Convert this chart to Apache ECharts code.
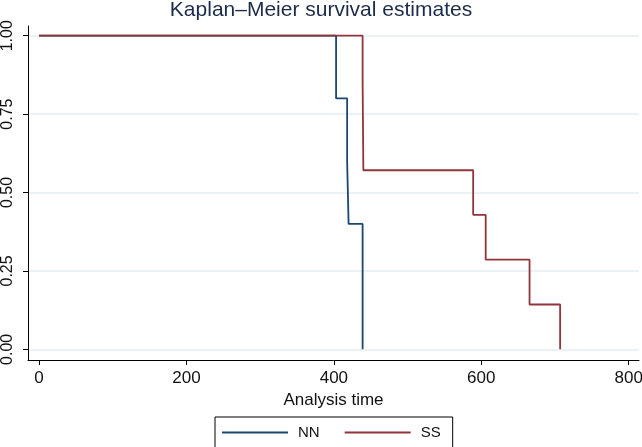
<!DOCTYPE html>
<html>
<head>
<meta charset="utf-8">
<script src="https://cdn.jsdelivr.net/npm/echarts@6/dist/echarts.min.js"></script>
<style>
html,body{margin:0;padding:0;background:#fff;}
#chart{width:642px;height:447px;}
</style>
</head>
<body>
<div id="chart"></div>
<script>
const titleText = 'Kaplan\u2013Meier survival estimates';
const seriesNames = ['NN', 'SS'];
const nnTime = [0, 403, 418, 420, 439];
const nnSurv = [1, 0.8, 0.6, 0.4, 0];
const ssTime = [0, 439, 440, 589, 606, 665.5, 707];
const ssSurv = [1, 0.857, 0.571, 0.429, 0.286, 0.143, 0];
const xTicks = [0, 200, 400, 600, 800];
const yTicks = [0, 0.25, 0.5, 0.75, 1];

function zip(a, b) { return a.map((v, i) => [v, b[i]]); }

const font = 'Liberation Sans, Arial, sans-serif';
const chart = echarts.init(document.getElementById('chart'));
chart.setOption({
  animation: false,
  backgroundColor: '#ffffff',
  title: {
    text: titleText, left: 'center', top: -5,
    textStyle: { fontFamily: font, fontSize: 21, fontWeight: 'normal', color: '#1c2b4a' }
  },
  grid: { left: 28, right: 3, top: 26, bottom: 87, containLabel: false, outerBoundsMode: 'none' },
  legend: {
    data: seriesNames,
    left: 215, top: 417,
    orient: 'horizontal',
    icon: 'rect', itemWidth: 66, itemHeight: 2, itemGap: 25,
    borderColor: '#000', borderWidth: 1, borderRadius: 0,
    padding: [8, 12, 8, 7],
    textStyle: { fontFamily: font, fontSize: 15, color: '#111', padding: [0, 0, 0, 5] }
  },
  xAxis: {
    type: 'value', min: -15, max: 814,
    name: 'Analysis time', nameLocation: 'middle', nameGap: 22,
    nameTextStyle: { fontFamily: font, fontSize: 17, color: '#111' },
    axisLine: { show: true, onZero: false, lineStyle: { color: '#000', width: 1 } },
    axisTick: { show: true, length: 5, customValues: xTicks, lineStyle: { color: '#000' } },
    axisLabel: { customValues: xTicks, margin: 10, fontFamily: font, fontSize: 17, color: '#111' },
    splitLine: { show: false }
  },
  yAxis: {
    type: 'value', min: -0.034, max: 1.031,
    axisLine: { show: true, onZero: false, lineStyle: { color: '#000', width: 1 } },
    axisTick: { show: true, length: 5, customValues: yTicks, lineStyle: { color: '#000' } },
    axisLabel: {
      customValues: yTicks, rotate: 90, margin: 12, fontFamily: font, fontSize: 16, color: '#111',
      formatter: v => v.toFixed(2)
    },
    splitLine: { show: true, customValues: yTicks, lineStyle: { color: '#e6edf0', width: 1.5 } }
  },
  series: [
    {
      name: seriesNames[0], type: 'line', step: 'end', showSymbol: false,
      data: zip(nnTime, nnSurv),
      lineStyle: { color: '#1a476f', width: 1.8 },
      itemStyle: { color: '#1a476f' }
    },
    {
      name: seriesNames[1], type: 'line', step: 'end', showSymbol: false,
      data: zip(ssTime, ssSurv),
      lineStyle: { color: '#90353b', width: 1.8 },
      itemStyle: { color: '#90353b' }
    }
  ]
});
</script>
</body>
</html>
